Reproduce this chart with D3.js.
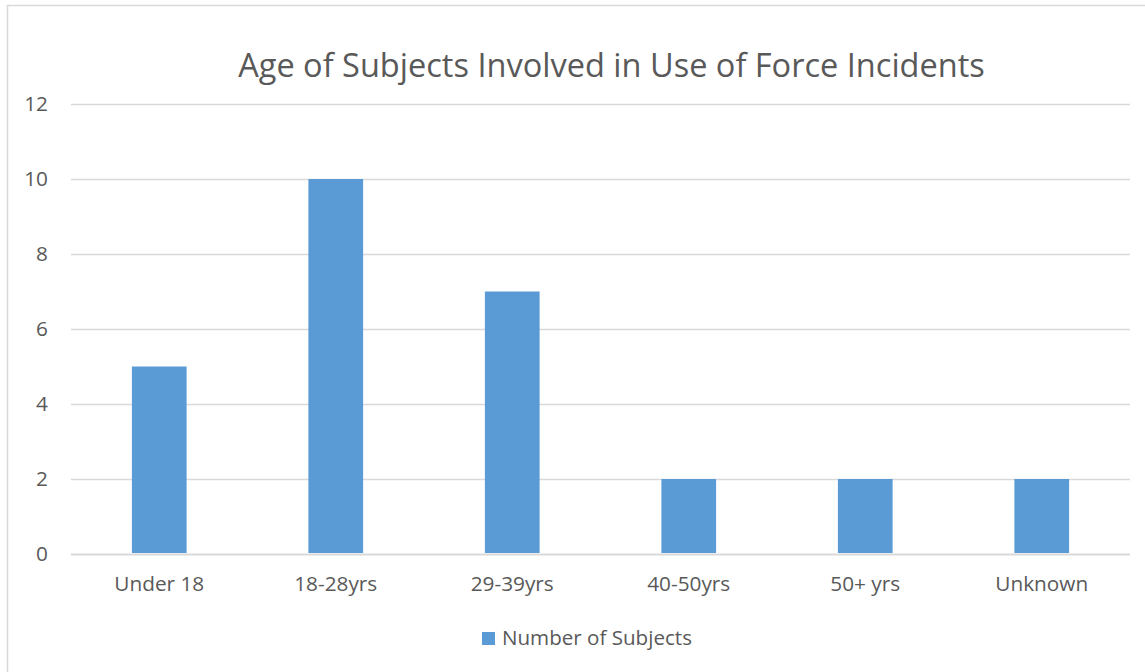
<!DOCTYPE html>
<html>
<head>
<meta charset="utf-8">
<script src="https://cdn.jsdelivr.net/npm/d3@7"></script>
<style>
  html, body { margin: 0; padding: 0; background: #fff; }
  svg { display: block; }
  text { font-family: "Open Sans", Lato, sans-serif; fill: #595959; }
</style>
</head>
<body>
<svg id="chart" width="1145" height="672"></svg>
<script>
const categories = ["Under 18", "18-28yrs", "29-39yrs", "40-50yrs", "50+ yrs", "Unknown"];
const subjectCounts = [5, 10, 7, 2, 2, 2];
const yTicks = [0, 2, 4, 6, 8, 10, 12];
const chartTitle = "Age of Subjects Involved in Use of Force Incidents";
const seriesName = "Number of Subjects";

const svg = d3.select("#chart");
const W = 1145, H = 672;
const plot = { left: 71, right: 1130, top: 104, bottom: 554 };

// size a font so that a sample string spans the given width
function fitSize(sample, width, base) {
  const t = svg.append("text").style("font-size", base + "px").text(sample);
  const w = t.node().getComputedTextLength();
  t.remove();
  return base * width / w;
}
const axisFont = fitSize("Under 18", 90, 18);
const legendFont = fitSize(seriesName, 190, 18);
const titleFont = fitSize(chartTitle, 747, 32);

// outer frame
svg.append("rect")
  .attr("x", 7.5).attr("y", 5.5)
  .attr("width", W + 10).attr("height", H + 10)
  .attr("fill", "#fff").attr("stroke", "#d9d9d9").attr("stroke-width", 1.5);

const x = d3.scaleBand()
  .domain(categories)
  .range([plot.left, plot.right])
  .paddingInner(0.69)
  .paddingOuter(0.345);

const y = d3.scaleLinear()
  .domain([0, 12])
  .range([plot.bottom, plot.top]);

// gridlines and y labels
const yAxis = d3.axisLeft(y)
  .tickValues(yTicks)
  .tickSize(-(plot.right - plot.left))
  .tickPadding(23)
  .tickFormat(d3.format("d"));

const gy = svg.append("g")
  .attr("transform", `translate(${plot.left},0)`)
  .call(yAxis);
gy.select(".domain").remove();
gy.selectAll(".tick line")
  .attr("stroke", "#d9d9d9")
  .attr("stroke-width", d => d === 0 ? 2 : 1.3);
gy.selectAll(".tick text")
  .style("font-size", axisFont + "px")
  .attr("fill", "#595959");

// bars
svg.append("g")
  .selectAll("rect")
  .data(categories.map((c, i) => ({ c, v: subjectCounts[i] })))
  .join("rect")
  .attr("x", d => x(d.c))
  .attr("width", x.bandwidth())
  .attr("y", d => y(d.v))
  .attr("height", d => y(0) - y(d.v) - 1)
  .attr("fill", "#5b9bd5");

// x labels
const xAxis = d3.axisBottom(x).tickSize(0).tickPadding(22);
const gx = svg.append("g")
  .attr("transform", `translate(0,${plot.bottom})`)
  .call(xAxis);
gx.select(".domain").remove();
gx.selectAll(".tick text")
  .style("font-size", axisFont + "px")
  .attr("fill", "#595959");

// title
svg.append("text")
  .attr("x", 611.5).attr("y", 77)
  .attr("text-anchor", "middle")
  .style("font-size", titleFont + "px")
  .text(chartTitle);

// legend
const legend = svg.append("g");
legend.append("rect")
  .attr("x", 482).attr("y", 632)
  .attr("width", 13).attr("height", 13)
  .attr("fill", "#5b9bd5");
legend.append("text")
  .attr("x", 502).attr("y", 645)
  .style("font-size", legendFont + "px")
  .text(seriesName);
</script>
</body>
</html>
